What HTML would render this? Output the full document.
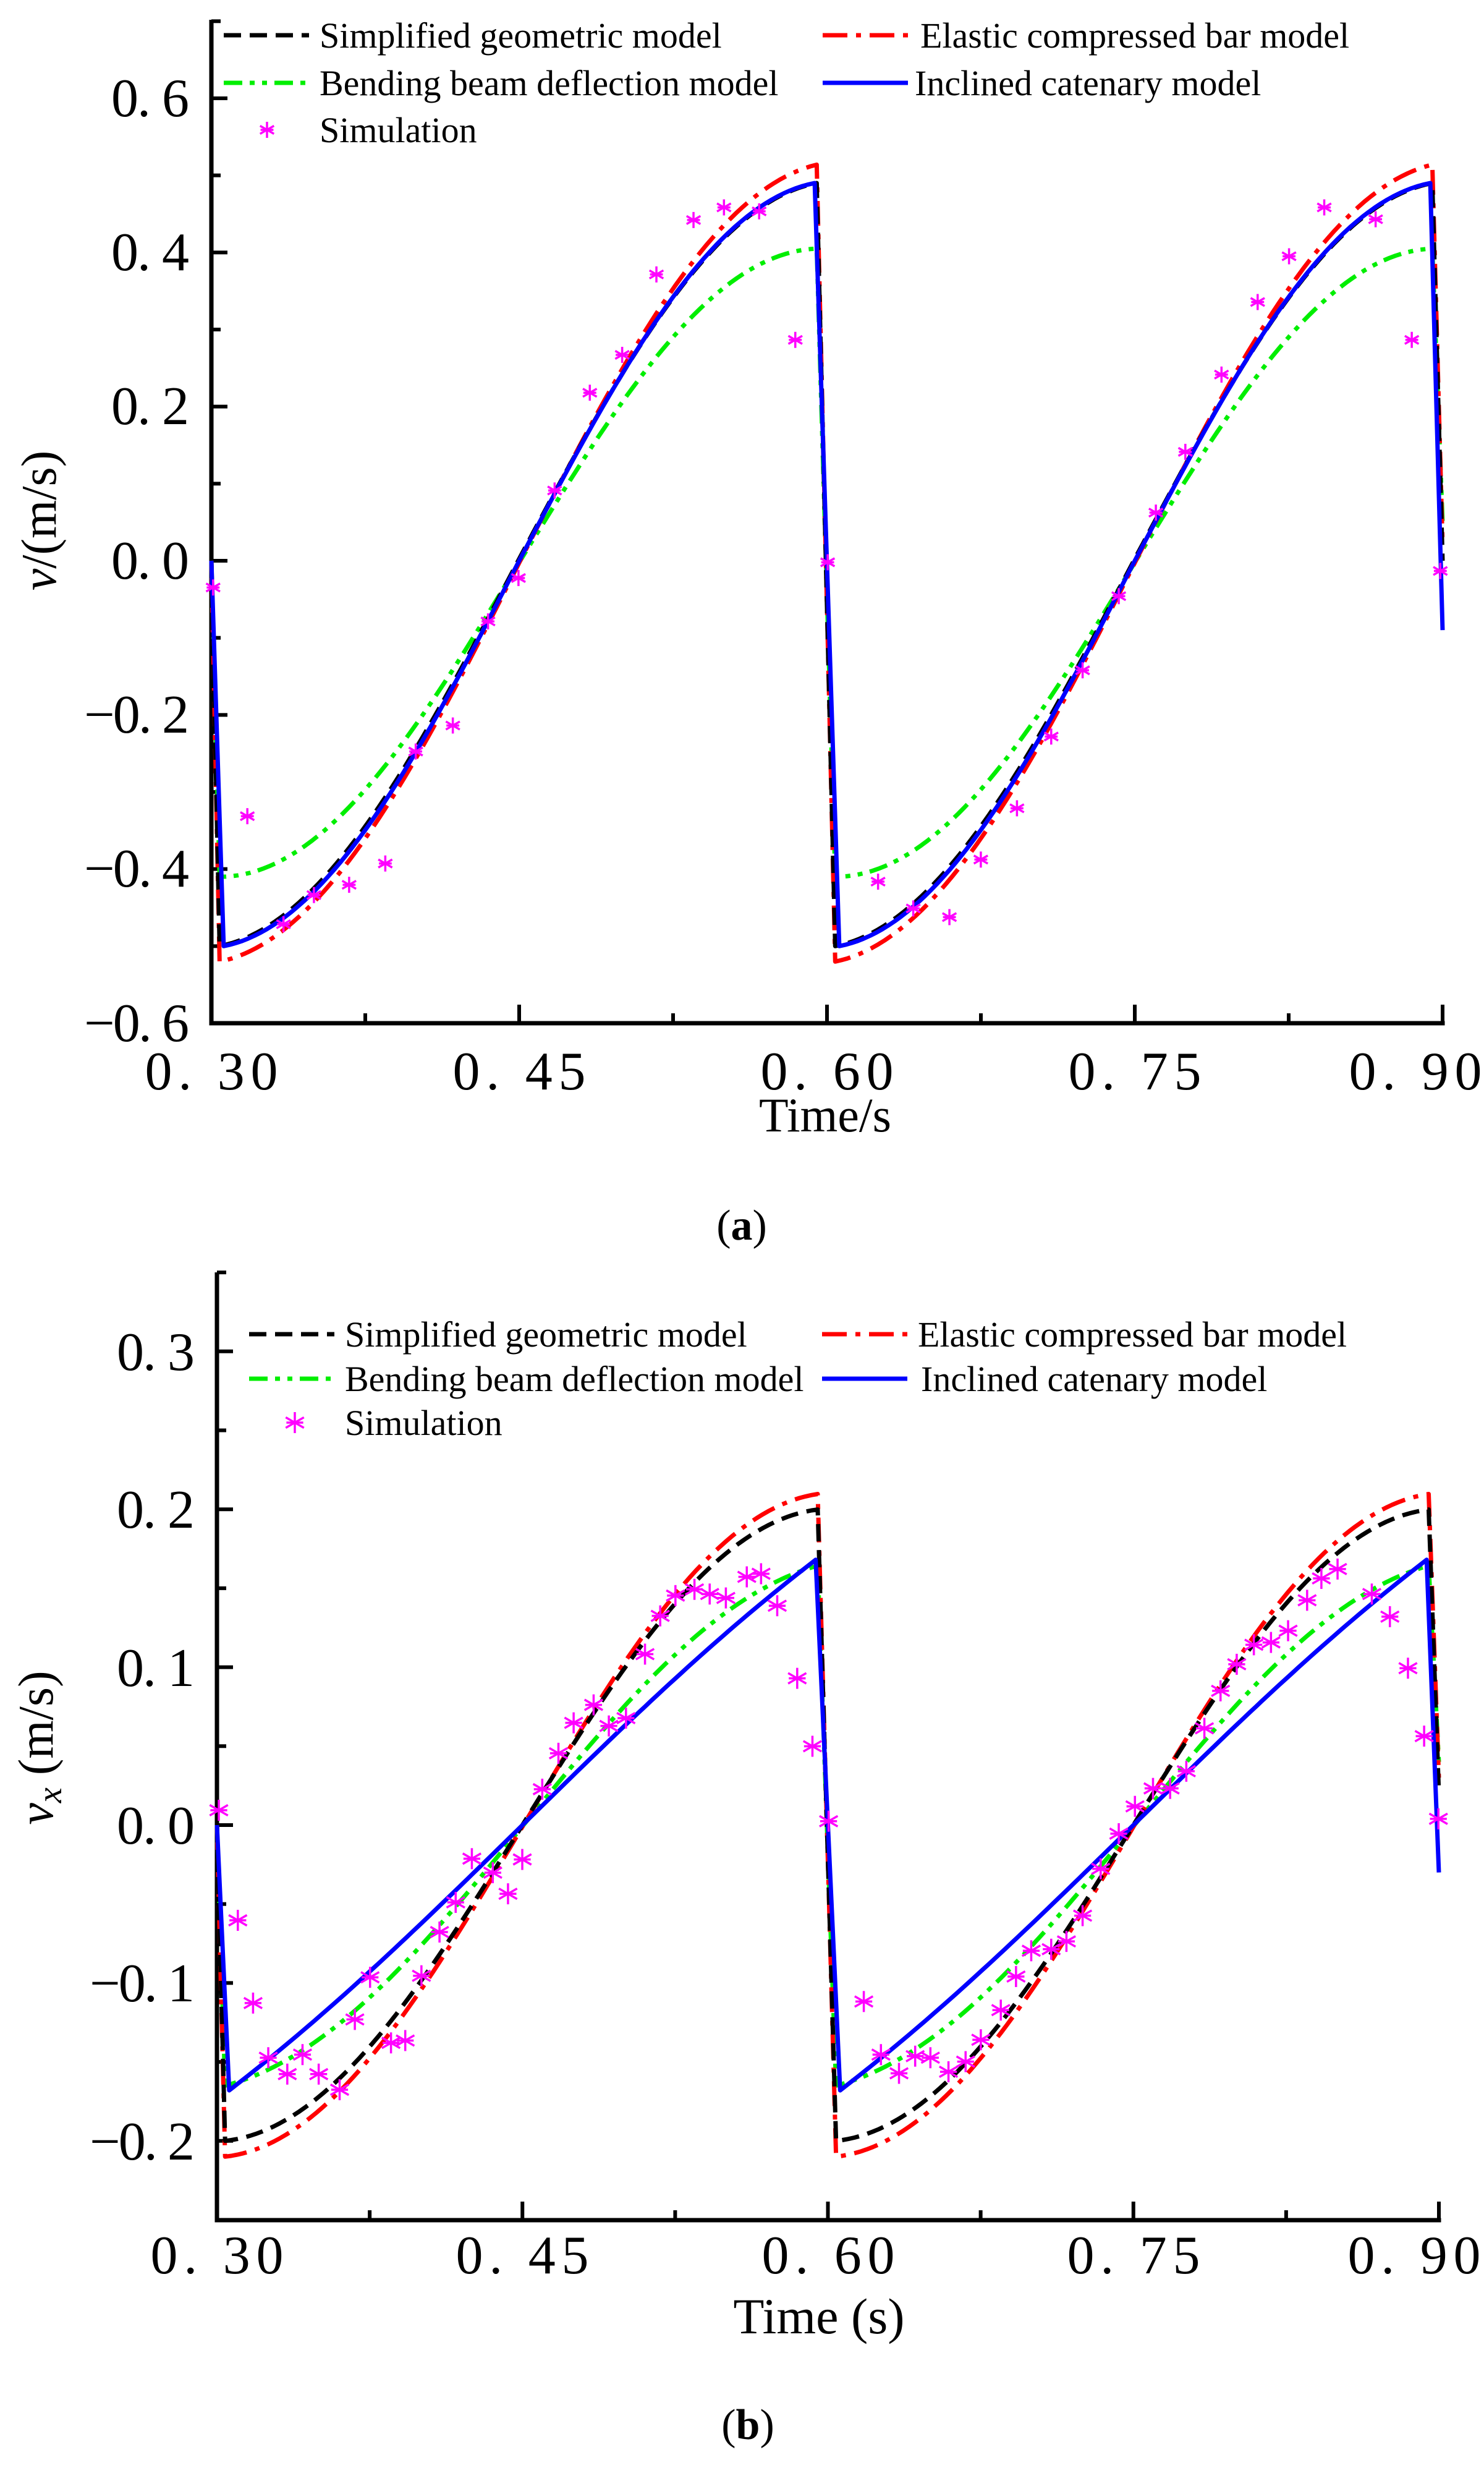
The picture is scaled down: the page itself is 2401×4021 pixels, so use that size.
<!DOCTYPE html>
<html><head><meta charset="utf-8"><style>
html,body{margin:0;padding:0;background:#fff;}
svg{display:block;}
text{font-family:"Liberation Serif","DejaVu Serif",serif;fill:#000;}
</style></head><body>
<svg id="s" width="2401" height="4021" viewBox="0 0 2401 4021" xmlns="http://www.w3.org/2000/svg">
<rect width="2401" height="4021" fill="#fff"/>
<g font-size="88" text-anchor="end" lengthAdjust="spacing">
<text x="306" y="188" textLength="126" lengthAdjust="spacing">0. 6</text><text x="306" y="437" textLength="126" lengthAdjust="spacing">0. 4</text><text x="306" y="686" textLength="126" lengthAdjust="spacing">0. 2</text>
<text x="306" y="936" textLength="126" lengthAdjust="spacing">0. 0</text><text x="306" y="1185" textLength="170" lengthAdjust="spacing">−0. 2</text><text x="306" y="1434" textLength="170" lengthAdjust="spacing">−0. 4</text><text x="306" y="1684" textLength="170" lengthAdjust="spacing">−0. 6</text>
</g>
<g font-size="88" text-anchor="middle">
<text x="342" y="1762" textLength="215" lengthAdjust="spacing">0. 30</text><text x="840" y="1762" textLength="215" lengthAdjust="spacing">0. 45</text><text x="1338" y="1762" textLength="215" lengthAdjust="spacing">0. 60</text><text x="1836" y="1762" textLength="215" lengthAdjust="spacing">0. 75</text><text x="2290" y="1762" textLength="215" lengthAdjust="spacing">0. 90</text>
</g>
<text x="1335" y="1830" font-size="78" text-anchor="middle">Time/s</text>
<text transform="translate(90,842) rotate(-90)" font-size="80" text-anchor="middle"><tspan font-style="italic">v</tspan>/(m/s)</text>
<text x="1200" y="2005" font-size="70" text-anchor="middle">(<tspan font-weight="bold">a</tspan>)</text>

<g font-size="88" text-anchor="end">
<text x="315" y="2216" textLength="126" lengthAdjust="spacing">0. 3</text><text x="315" y="2471" textLength="126" lengthAdjust="spacing">0. 2</text><text x="315" y="2727" textLength="126" lengthAdjust="spacing">0. 1</text>
<text x="315" y="2982" textLength="126" lengthAdjust="spacing">0. 0</text><text x="315" y="3237" textLength="170" lengthAdjust="spacing">−0. 1</text><text x="315" y="3493" textLength="170" lengthAdjust="spacing">−0. 2</text>
</g>
<g font-size="88" text-anchor="middle">
<text x="351" y="3677" textLength="215" lengthAdjust="spacing">0. 30</text><text x="845" y="3677" textLength="215" lengthAdjust="spacing">0. 45</text><text x="1340" y="3677" textLength="215" lengthAdjust="spacing">0. 60</text><text x="1834" y="3677" textLength="215" lengthAdjust="spacing">0. 75</text><text x="2288" y="3677" textLength="215" lengthAdjust="spacing">0. 90</text>
</g>
<text x="1325" y="3774" font-size="82" text-anchor="middle">Time (s)</text>
<text transform="translate(85,2827) rotate(-90)" font-size="80" text-anchor="middle"><tspan font-style="italic">v</tspan><tspan font-style="italic" font-size="56" dy="14">x</tspan><tspan dy="-14"> (m/s)</tspan></text>
<text x="1210" y="3945" font-size="70" text-anchor="middle">(<tspan font-weight="bold">b</tspan>)</text>

<g font-size="58">
<text x="517" y="77">Simplified geometric model</text>
<text x="1489" y="77">Elastic compressed bar model</text>
<text x="517" y="154">Bending beam deflection model</text>
<text x="1480" y="154">Inclined catenary model</text>
<text x="517" y="230">Simulation</text>
<text x="558" y="2178">Simplified geometric model</text>
<text x="1485" y="2178">Elastic compressed bar model</text>
<text x="558" y="2250">Bending beam deflection model</text>
<text x="1490" y="2250">Inclined catenary model</text>
<text x="558" y="2321">Simulation</text>
</g>
<g id="dyn"></g>
</svg>
<script>
var NS="http://www.w3.org/2000/svg",g=document.getElementById('dyn');
function el(n,a){var e=document.createElementNS(NS,n);for(var k in a)e.setAttribute(k,a[k]);g.appendChild(e);return e;}
var DASH={k:"28 14",r:"40 14 8 14",g:"30 12 8 12 8 12",b:""};
var COL={k:"#000",r:"#ff0000",g:"#00ee00",b:"#0000ff"};
function star(x,y,r,w){
  for(var a=0;a<3;a++){var an=Math.PI/2+a*Math.PI/3;
    el('line',{x1:x+r*Math.cos(an),y1:y+r*Math.sin(an),x2:x-r*Math.cos(an),y2:y-r*Math.sin(an),stroke:"#ff00ff","stroke-width":w});}
  el('line',{x1:x-r*0.8,y1:y,x2:x+r*0.8,y2:y,stroke:"#ff00ff","stroke-width":w});
}
function panel(P){
  el('line',{x1:P.x0,y1:P.top,x2:P.x0,y2:P.bot+3.5,stroke:"#000","stroke-width":7});
  el('line',{x1:P.x0-3.5,y1:P.bot,x2:P.x1+3.5,y2:P.bot,stroke:"#000","stroke-width":7});
  for(var v=P.vmin;v<=P.vmax+1e-9;v+=P.vstep/2){
    var maj=Math.abs(Math.round(v/P.vstep)*P.vstep-v)<1e-6;var y=P.Y(v);
    if(y<P.top)continue;
    el('line',{x1:P.x0,y1:y,x2:P.x0+(maj?26:15),y2:y,stroke:"#000","stroke-width":6});
  }
  for(var i=0;i<=8;i++){var t=0.3+i*0.075;var x=P.X(t);
    el('line',{x1:x,y1:P.bot,x2:x,y2:P.bot-(i%2==0?30:16),stroke:"#000","stroke-width":6});}
  P.series.forEach(function(S){
    var pts=[];
    [0.3,0.6].forEach(function(ts,ci){
      var t0=ts+S.d,t1=ts+S.e;
      pts.push([ts,ci==0?0:null]);
      for(var t=t0;t<=t1+1e-9;t+=0.003){
        var u=(t-t0)/(t1-t0);
        var s=(1-S.m)*(-Math.cos(Math.PI*u))+S.m*(2*u-1);
        pts.push([t,s<0?s*S.A:s*S.B]);
      }
    });
    pts.push([0.9,S.end]);
    var str=pts.filter(function(p){return p[1]!==null;}).map(function(p){return P.X(p[0]).toFixed(1)+","+P.Y(p[1]).toFixed(1);}).join(" ");
    var a={points:str,fill:"none",stroke:COL[S.c],"stroke-width":7,"stroke-linejoin":"round"};
    if(DASH[S.c])a["stroke-dasharray"]=DASH[S.c];
    el('polyline',a);
  });
  var L=P.leg;
  [[L.c1,L.r1,'k'],[L.c2,L.r1,'r'],[L.c1,L.r2,'g'],[L.c2,L.r2,'b']].forEach(function(q){
    var a={x1:q[0],y1:q[1],x2:q[0]+138,y2:q[1],stroke:COL[q[2]],"stroke-width":7};
    if(DASH[q[2]])a["stroke-dasharray"]=DASH[q[2]];
    el('line',a);
  });
  star(L.c1+L.so,L.r3,P.sr,3.5);
  P.sim.forEach(function(p){star(P.sx(p[0]),P.sy(p[1]),P.sr,3.5);});
}
var A={x0:342,x1:2334,top:32,bot:1655,vmin:-0.6,vmax:0.7,vstep:0.2,
  X:function(t){return 342+(t-0.3)/0.6*1992;},Y:function(v){return 907-v*1246.7;},
  series:[
   {c:'g',A:0.41,B:0.405,m:0,d:0.004,e:0.297,end:0.05},
   {c:'r',A:0.52,B:0.515,m:0.15,d:0.004,e:0.297,end:0.02},
   {c:'k',A:0.50,B:0.49,m:0.15,d:0.004,e:0.295,end:0.0},
   {c:'b',A:0.50,B:0.49,m:0.15,d:0.006,e:0.294,end:-0.09}],
  leg:{c1:362,c2:1331,r1:57,r2:134,r3:210,so:70},sr:13,
  sx:function(x){return x/0.6497;},sy:function(y){return y/0.784;},
  sim:[[224,745],[260,1035],[298,1172],[330,1135],[367,1122],[405,1095],[437,953],[476,920],[513,788],[545,733],[583,622],[620,498],[654,450],[690,348],[729,279],[761,263],[798,268],[836,431],[870,713],[923,1118],[960,1152],[998,1163],[1031,1090],[1069,1025],[1105,934],[1138,850],[1176,756],[1215,650],[1246,573],[1284,475],[1322,383],[1355,325],[1392,263],[1446,278],[1484,431],[1514,724]]
};
var B={x0:351,x1:2328,top:2058,bot:3591,vmin:-0.25,vmax:0.35,vstep:0.1,
  X:function(t){return 351+(t-0.3)/0.6*1977;},Y:function(v){return 2952-v*2554;},
  series:[
   {c:'g',A:0.165,B:0.165,m:0.3,d:0.004,e:0.297,end:0.04},
   {c:'r',A:0.21,B:0.21,m:0.1,d:0.004,e:0.297,end:0.03},
   {c:'k',A:0.20,B:0.20,m:0.1,d:0.004,e:0.296,end:0.02},
   {c:'b',A:0.168,B:0.168,m:0.85,d:0.006,e:0.294,end:-0.03}],
  leg:{c1:403,c2:1330,r1:2158,r2:2230,r3:2301,so:74},sr:17,
  sx:function(x){return x/0.6497;},sy:function(y){return 2000+y/0.792;},
  sim:[[230,735],[250,876],[266,982],[282,1052],[302,1073],[318,1048],[335,1073],[357,1093],[373,1003],[389,949],[411,1033],[426,1030],[443,947],[462,891],[479,853],[496,797],[518,815],[534,842],[549,798],[570,708],[587,662],[603,623],[624,600],[640,627],[658,617],[678,535],[694,486],[710,460],[730,452],[746,458],[763,463],[785,436],[800,432],[817,473],[838,566],[854,653],[871,749],[908,980],[926,1048],[945,1072],[962,1050],[978,1052],[997,1070],[1015,1057],[1031,1029],[1052,991],[1068,948],[1084,915],[1105,913],[1121,903],[1138,870],[1157,810],[1176,765],[1193,730],[1212,707],[1230,707],[1247,685],[1266,630],[1283,582],[1300,548],[1318,523],[1336,520],[1354,505],[1374,466],[1389,438],[1406,426],[1442,458],[1461,487],[1480,553],[1497,640],[1512,746]]
};
panel(A);panel(B);
</script>
</body></html>
